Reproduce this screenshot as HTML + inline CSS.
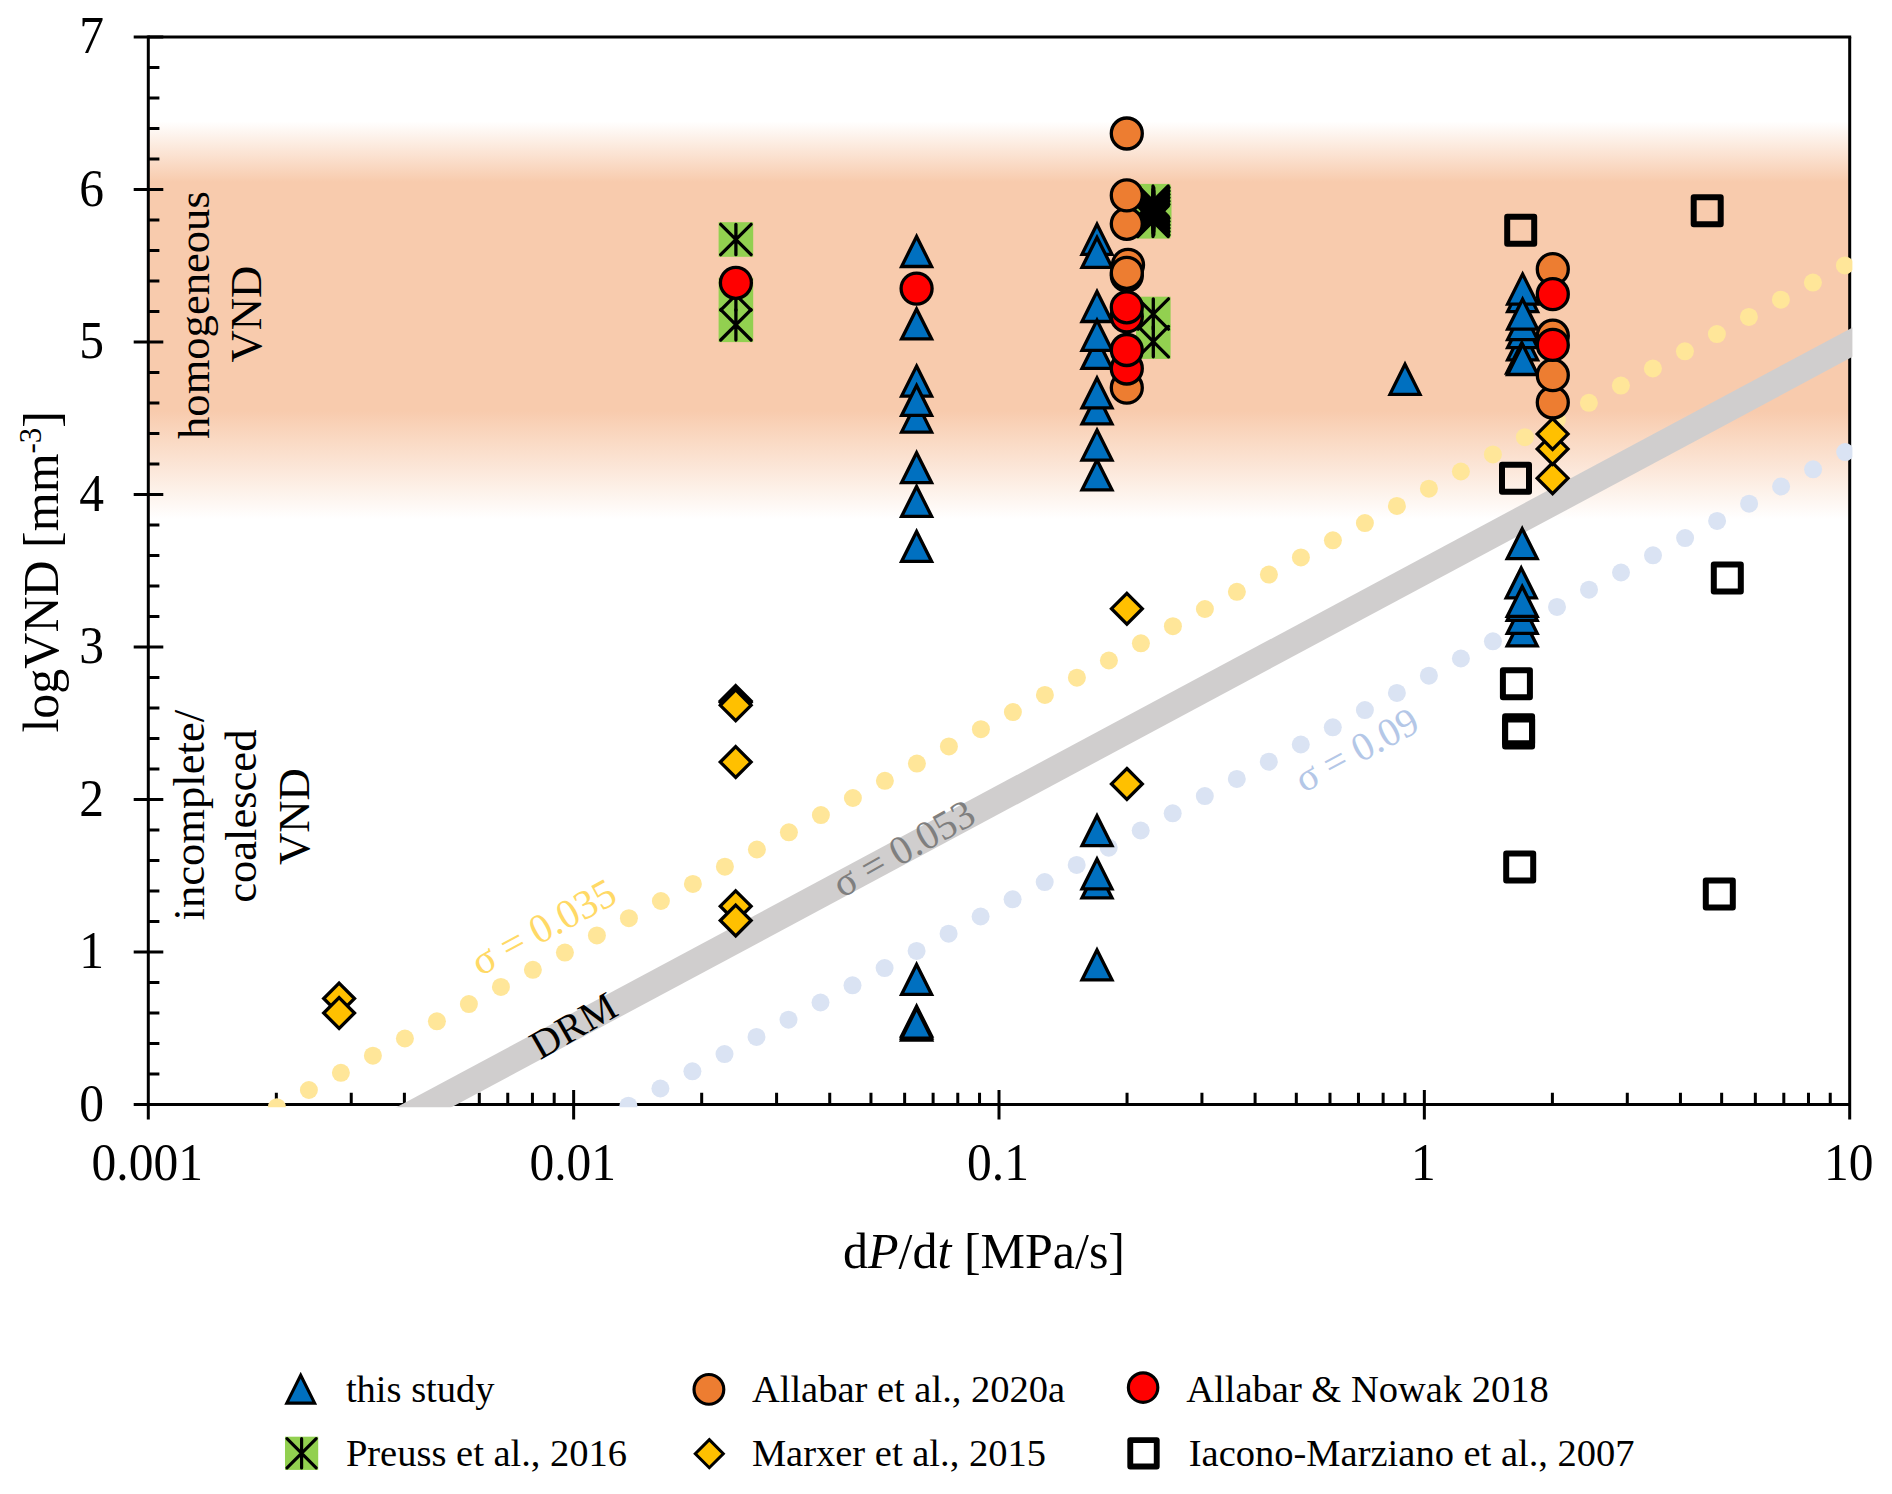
<!DOCTYPE html>
<html lang="en"><head><meta charset="utf-8">
<title>logVND vs dP/dt</title>
<style>
html,body{margin:0;padding:0;background:#fff;}
body{width:1892px;height:1494px;overflow:hidden;}
svg{display:block;}
text{font-family:"Liberation Serif", "Times New Roman", Times, serif;fill:#000;}
.tk{font-size:49.5px;}
.ax{font-size:50px;}
.lb{font-size:44.6px;}
.in{font-size:40px;}
.lg{font-size:38.5px;}
.tri{fill:#0070C0;stroke:#000;stroke-width:3.3;stroke-linejoin:miter;}
.co{fill:#ED7D31;stroke:#000;stroke-width:3.3;}
.cr{fill:#FF0000;stroke:#000;stroke-width:3.3;}
.di{fill:#FFC000;stroke:#000;stroke-width:3.3;stroke-linejoin:miter;}
.sq{fill:none;stroke:#000;stroke-width:6;stroke-linejoin:round;}
.gs{fill:#92D050;}
.st{stroke:#000;stroke-width:3.3;stroke-linecap:round;fill:none;}
.axl{stroke:#000;stroke-width:3;fill:none;stroke-linecap:butt;}
</style></head><body>
<svg width="1892" height="1494" viewBox="0 0 1892 1494">
<defs>
<linearGradient id="band" x1="0" y1="0" x2="0" y2="1">
<stop offset="0" stop-color="#F8CBAD" stop-opacity="0"/>
<stop offset="0.152" stop-color="#F8CBAD" stop-opacity="1"/>
<stop offset="0.728" stop-color="#F8CBAD" stop-opacity="1"/>
<stop offset="1" stop-color="#F8CBAD" stop-opacity="0"/>
</linearGradient>
<clipPath id="plot"><rect x="145.6" y="34.3" width="1706.8" height="1073.0"/></clipPath>
<path id="T" class="tri" d="M0,-15.00 L15.00,15.00 L-15.00,15.00 Z"/>
<circle id="O" class="co" r="15.5"/>
<circle id="R" class="cr" r="15.5"/>
<path id="D" class="di" d="M0,-15.4 L15.4,0 L0,15.4 L-15.4,0 Z"/>
<rect id="S" class="sq" x="-13.5" y="-13.5" width="27" height="27"/>
<rect id="GF" class="gs" x="-17.3" y="-17.3" width="34.6" height="34.6"/>
<path id="GS" class="st" d="M0,-15.2 V15.2 M-15.2,-15.2 L15.2,15.2 M15.2,-15.2 L-15.2,15.2"/>
<g id="G"><use href="#GF"/><use href="#GS"/></g>
</defs>
<rect x="0" y="0" width="1892" height="1494" fill="#fff"/>
<rect x="148.3" y="121.5" width="1701.4" height="397.5" fill="url(#band)"/>
<text class="lb" text-anchor="middle" transform="translate(209.2,315.1) rotate(-90)">homogeneous</text>
<text class="lb" text-anchor="middle" transform="translate(261.4,314.1) rotate(-90)">VND</text>
<text class="lb" text-anchor="middle" transform="translate(204.2,815.2) rotate(-90)">incomplete/</text>
<text class="lb" text-anchor="middle" transform="translate(256.4,816.2) rotate(-90)">coalesced</text>
<text class="lb" text-anchor="middle" transform="translate(308.6,816.7) rotate(-90)">VND</text>
<g class="axl">
<path d="M148.3,35.5 V1119.6"/>
<path d="M148.3,37.0 H1851.2"/>
<path d="M1849.7,37.0 V1119.6"/>
<path d="M133.7,1104.5 H1849.7"/>
<path d="M148.3,1074.00 H159.4 M148.3,1043.50 H159.4 M148.3,1013.00 H159.4 M148.3,982.50 H159.4 M133.7,952.00 H163.3 M148.3,921.50 H159.4 M148.3,891.00 H159.4 M148.3,860.50 H159.4 M148.3,830.00 H159.4 M133.7,799.50 H163.3 M148.3,769.00 H159.4 M148.3,738.50 H159.4 M148.3,708.00 H159.4 M148.3,677.50 H159.4 M133.7,647.00 H163.3 M148.3,616.50 H159.4 M148.3,586.00 H159.4 M148.3,555.50 H159.4 M148.3,525.00 H159.4 M133.7,494.50 H163.3 M148.3,464.00 H159.4 M148.3,433.50 H159.4 M148.3,403.00 H159.4 M148.3,372.50 H159.4 M133.7,342.00 H163.3 M148.3,311.50 H159.4 M148.3,281.00 H159.4 M148.3,250.50 H159.4 M148.3,220.00 H159.4 M133.7,189.50 H163.3 M148.3,159.00 H159.4 M148.3,128.50 H159.4 M148.3,98.00 H159.4 M148.3,67.50 H159.4 M133.7,37.00 H163.3"/>
<path d="M276.34,1092.8 V1104.5 M351.24,1092.8 V1104.5 M404.39,1092.8 V1104.5 M445.61,1092.8 V1104.5 M479.29,1092.8 V1104.5 M507.76,1092.8 V1104.5 M532.43,1092.8 V1104.5 M554.19,1092.8 V1104.5 M573.65,1090.0 V1119.6 M701.69,1092.8 V1104.5 M776.59,1092.8 V1104.5 M829.74,1092.8 V1104.5 M870.96,1092.8 V1104.5 M904.64,1092.8 V1104.5 M933.11,1092.8 V1104.5 M957.78,1092.8 V1104.5 M979.54,1092.8 V1104.5 M999.00,1090.0 V1119.6 M1127.04,1092.8 V1104.5 M1201.94,1092.8 V1104.5 M1255.09,1092.8 V1104.5 M1296.31,1092.8 V1104.5 M1329.99,1092.8 V1104.5 M1358.46,1092.8 V1104.5 M1383.13,1092.8 V1104.5 M1404.89,1092.8 V1104.5 M1424.35,1090.0 V1119.6 M1552.39,1092.8 V1104.5 M1627.29,1092.8 V1104.5 M1680.44,1092.8 V1104.5 M1721.66,1092.8 V1104.5 M1755.34,1092.8 V1104.5 M1783.81,1092.8 V1104.5 M1808.48,1092.8 V1104.5 M1830.24,1092.8 V1104.5"/>
</g>
<g clip-path="url(#plot)">
<line x1="380.0" y1="1130.8" x2="1900.0" y2="316.7" stroke="#D0CECE" stroke-width="26"/>
<circle cx="276.9" cy="1107.2" r="9" fill="#FFE699"/>
<circle cx="308.9" cy="1090.0" r="9" fill="#FFE699"/>
<circle cx="340.9" cy="1072.8" r="9" fill="#FFE699"/>
<circle cx="372.9" cy="1055.7" r="9" fill="#FFE699"/>
<circle cx="404.9" cy="1038.5" r="9" fill="#FFE699"/>
<circle cx="436.9" cy="1021.3" r="9" fill="#FFE699"/>
<circle cx="468.9" cy="1004.1" r="9" fill="#FFE699"/>
<circle cx="500.9" cy="986.9" r="9" fill="#FFE699"/>
<circle cx="532.9" cy="969.8" r="9" fill="#FFE699"/>
<circle cx="564.9" cy="952.6" r="9" fill="#FFE699"/>
<circle cx="596.9" cy="935.4" r="9" fill="#FFE699"/>
<circle cx="628.9" cy="918.2" r="9" fill="#FFE699"/>
<circle cx="660.9" cy="901.0" r="9" fill="#FFE699"/>
<circle cx="692.9" cy="883.9" r="9" fill="#FFE699"/>
<circle cx="724.9" cy="866.7" r="9" fill="#FFE699"/>
<circle cx="756.9" cy="849.5" r="9" fill="#FFE699"/>
<circle cx="788.9" cy="832.3" r="9" fill="#FFE699"/>
<circle cx="820.9" cy="815.1" r="9" fill="#FFE699"/>
<circle cx="852.9" cy="798.0" r="9" fill="#FFE699"/>
<circle cx="884.9" cy="780.8" r="9" fill="#FFE699"/>
<circle cx="916.9" cy="763.6" r="9" fill="#FFE699"/>
<circle cx="948.9" cy="746.4" r="9" fill="#FFE699"/>
<circle cx="980.9" cy="729.2" r="9" fill="#FFE699"/>
<circle cx="1012.9" cy="712.1" r="9" fill="#FFE699"/>
<circle cx="1044.9" cy="694.9" r="9" fill="#FFE699"/>
<circle cx="1076.9" cy="677.7" r="9" fill="#FFE699"/>
<circle cx="1108.9" cy="660.5" r="9" fill="#FFE699"/>
<circle cx="1140.9" cy="643.3" r="9" fill="#FFE699"/>
<circle cx="1172.9" cy="626.2" r="9" fill="#FFE699"/>
<circle cx="1204.9" cy="609.0" r="9" fill="#FFE699"/>
<circle cx="1236.9" cy="591.8" r="9" fill="#FFE699"/>
<circle cx="1268.9" cy="574.6" r="9" fill="#FFE699"/>
<circle cx="1300.9" cy="557.4" r="9" fill="#FFE699"/>
<circle cx="1332.9" cy="540.3" r="9" fill="#FFE699"/>
<circle cx="1364.9" cy="523.1" r="9" fill="#FFE699"/>
<circle cx="1396.9" cy="505.9" r="9" fill="#FFE699"/>
<circle cx="1428.9" cy="488.7" r="9" fill="#FFE699"/>
<circle cx="1460.9" cy="471.5" r="9" fill="#FFE699"/>
<circle cx="1492.9" cy="454.4" r="9" fill="#FFE699"/>
<circle cx="1524.9" cy="437.2" r="9" fill="#FFE699"/>
<circle cx="1556.9" cy="420.0" r="9" fill="#FFE699"/>
<circle cx="1588.9" cy="402.8" r="9" fill="#FFE699"/>
<circle cx="1620.9" cy="385.6" r="9" fill="#FFE699"/>
<circle cx="1652.9" cy="368.5" r="9" fill="#FFE699"/>
<circle cx="1684.9" cy="351.3" r="9" fill="#FFE699"/>
<circle cx="1716.9" cy="334.1" r="9" fill="#FFE699"/>
<circle cx="1748.9" cy="316.9" r="9" fill="#FFE699"/>
<circle cx="1780.9" cy="299.7" r="9" fill="#FFE699"/>
<circle cx="1812.9" cy="282.6" r="9" fill="#FFE699"/>
<circle cx="1844.9" cy="265.4" r="9" fill="#FFE699"/>
<circle cx="628.4" cy="1105.7" r="9" fill="#DAE3F3"/>
<circle cx="660.4" cy="1088.5" r="9" fill="#DAE3F3"/>
<circle cx="692.4" cy="1071.3" r="9" fill="#DAE3F3"/>
<circle cx="724.5" cy="1054.1" r="9" fill="#DAE3F3"/>
<circle cx="756.5" cy="1036.9" r="9" fill="#DAE3F3"/>
<circle cx="788.5" cy="1019.7" r="9" fill="#DAE3F3"/>
<circle cx="820.5" cy="1002.5" r="9" fill="#DAE3F3"/>
<circle cx="852.5" cy="985.3" r="9" fill="#DAE3F3"/>
<circle cx="884.6" cy="968.1" r="9" fill="#DAE3F3"/>
<circle cx="916.6" cy="950.9" r="9" fill="#DAE3F3"/>
<circle cx="948.6" cy="933.7" r="9" fill="#DAE3F3"/>
<circle cx="980.6" cy="916.5" r="9" fill="#DAE3F3"/>
<circle cx="1012.6" cy="899.3" r="9" fill="#DAE3F3"/>
<circle cx="1044.7" cy="882.1" r="9" fill="#DAE3F3"/>
<circle cx="1076.7" cy="864.9" r="9" fill="#DAE3F3"/>
<circle cx="1108.7" cy="847.7" r="9" fill="#DAE3F3"/>
<circle cx="1140.7" cy="830.5" r="9" fill="#DAE3F3"/>
<circle cx="1172.7" cy="813.3" r="9" fill="#DAE3F3"/>
<circle cx="1204.8" cy="796.1" r="9" fill="#DAE3F3"/>
<circle cx="1236.8" cy="778.9" r="9" fill="#DAE3F3"/>
<circle cx="1268.8" cy="761.7" r="9" fill="#DAE3F3"/>
<circle cx="1300.8" cy="744.5" r="9" fill="#DAE3F3"/>
<circle cx="1332.8" cy="727.3" r="9" fill="#DAE3F3"/>
<circle cx="1364.9" cy="710.1" r="9" fill="#DAE3F3"/>
<circle cx="1396.9" cy="692.9" r="9" fill="#DAE3F3"/>
<circle cx="1428.9" cy="675.7" r="9" fill="#DAE3F3"/>
<circle cx="1460.9" cy="658.5" r="9" fill="#DAE3F3"/>
<circle cx="1492.9" cy="641.3" r="9" fill="#DAE3F3"/>
<circle cx="1525.0" cy="624.1" r="9" fill="#DAE3F3"/>
<circle cx="1557.0" cy="606.9" r="9" fill="#DAE3F3"/>
<circle cx="1589.0" cy="589.7" r="9" fill="#DAE3F3"/>
<circle cx="1621.0" cy="572.5" r="9" fill="#DAE3F3"/>
<circle cx="1653.0" cy="555.3" r="9" fill="#DAE3F3"/>
<circle cx="1685.1" cy="538.1" r="9" fill="#DAE3F3"/>
<circle cx="1717.1" cy="520.9" r="9" fill="#DAE3F3"/>
<circle cx="1749.1" cy="503.7" r="9" fill="#DAE3F3"/>
<circle cx="1781.1" cy="486.5" r="9" fill="#DAE3F3"/>
<circle cx="1813.1" cy="469.3" r="9" fill="#DAE3F3"/>
<circle cx="1845.2" cy="452.1" r="9" fill="#DAE3F3"/>
</g>
<text text-anchor="middle" style="fill:#FFD966;font-size:41.0px" transform="translate(543.7,927.5) rotate(-28.3)" dy="13.0">σ = 0.035</text>
<text text-anchor="middle" style="fill:#000;font-size:40.5px" transform="translate(580.1,1037.3) rotate(-29.8)" dy="0.0">DRM</text>
<text text-anchor="middle" style="fill:#7F7F7F;font-size:40.5px" transform="translate(903.7,848.9) rotate(-29.4)" dy="13.0">σ = 0.053</text>
<text text-anchor="middle" style="fill:#B4C7E7;font-size:40.0px" transform="translate(1356.6,750.1) rotate(-28.3)" dy="13.0">σ = 0.09</text>
<use href="#GF" x="735.9" y="239.5"/>
<use href="#GF" x="735.9" y="324.8"/>
<use href="#GF" x="735.9" y="295.0"/>
<use href="#GF" x="1153.0" y="201.2"/>
<use href="#GF" x="1153.8" y="202.9"/>
<use href="#GF" x="1153.0" y="204.5"/>
<use href="#GF" x="1153.8" y="206.2"/>
<use href="#GF" x="1153.0" y="207.9"/>
<use href="#GF" x="1153.8" y="209.6"/>
<use href="#GF" x="1153.0" y="211.2"/>
<use href="#GF" x="1153.8" y="212.9"/>
<use href="#GF" x="1153.0" y="214.6"/>
<use href="#GF" x="1153.8" y="216.3"/>
<use href="#GF" x="1153.0" y="218.0"/>
<use href="#GF" x="1153.8" y="219.6"/>
<use href="#GF" x="1153.0" y="221.3"/>
<use href="#GF" x="1153.3" y="341.6"/>
<use href="#GF" x="1153.3" y="314.0"/>
<use href="#GS" x="735.9" y="239.5"/>
<use href="#GS" x="735.9" y="324.8"/>
<use href="#GS" x="735.9" y="295.0"/>
<use href="#GS" x="1153.0" y="201.2"/>
<use href="#GS" x="1153.8" y="202.9"/>
<use href="#GS" x="1153.0" y="204.5"/>
<use href="#GS" x="1153.8" y="206.2"/>
<use href="#GS" x="1153.0" y="207.9"/>
<use href="#GS" x="1153.8" y="209.6"/>
<use href="#GS" x="1153.0" y="211.2"/>
<use href="#GS" x="1153.8" y="212.9"/>
<use href="#GS" x="1153.0" y="214.6"/>
<use href="#GS" x="1153.8" y="216.3"/>
<use href="#GS" x="1153.0" y="218.0"/>
<use href="#GS" x="1153.8" y="219.6"/>
<use href="#GS" x="1153.0" y="221.3"/>
<use href="#GS" x="1153.3" y="341.6"/>
<use href="#GS" x="1153.3" y="314.0"/>
<use href="#T" x="916.6" y="251.5"/>
<use href="#T" x="916.6" y="323.9"/>
<use href="#T" x="916.6" y="381.1"/>
<use href="#T" x="916.6" y="417.1"/>
<use href="#T" x="916.6" y="400.4"/>
<use href="#T" x="916.6" y="501.4"/>
<use href="#T" x="916.6" y="467.7"/>
<use href="#T" x="916.6" y="546.4"/>
<use href="#T" x="916.6" y="979.4"/>
<use href="#T" x="916.6" y="1021.2"/>
<use href="#T" x="916.6" y="1025.1"/>
<use href="#T" x="916.6" y="1023.2"/>
<use href="#T" x="1097.0" y="239.3"/>
<use href="#T" x="1097.0" y="252.4"/>
<use href="#T" x="1097.0" y="306.5"/>
<use href="#T" x="1097.0" y="353.4"/>
<use href="#T" x="1097.0" y="335.3"/>
<use href="#T" x="1097.0" y="408.9"/>
<use href="#T" x="1097.0" y="392.9"/>
<use href="#T" x="1097.0" y="474.9"/>
<use href="#T" x="1097.0" y="445.1"/>
<use href="#T" x="1097.0" y="830.7"/>
<use href="#T" x="1097.0" y="882.9"/>
<use href="#T" x="1097.0" y="873.9"/>
<use href="#T" x="1097.0" y="964.9"/>
<use href="#T" x="1405.0" y="379.3"/>
<use href="#T" x="1522.6" y="344.8"/>
<use href="#T" x="1522.6" y="332.7"/>
<use href="#T" x="1522.6" y="324.7"/>
<use href="#T" x="1522.6" y="296.6"/>
<use href="#T" x="1522.6" y="289.1"/>
<use href="#T" x="1522.6" y="314.2"/>
<use href="#T" x="1521.6" y="358.1"/>
<use href="#T" x="1522.6" y="359.5"/>
<use href="#T" x="1522.2" y="543.7"/>
<use href="#T" x="1521.2" y="582.9"/>
<use href="#T" x="1522.2" y="630.9"/>
<use href="#T" x="1522.2" y="618.4"/>
<use href="#T" x="1522.2" y="605.4"/>
<use href="#T" x="1522.2" y="601.4"/>
<use href="#O" x="1126.8" y="133.5"/>
<use href="#O" x="1126.8" y="223.8"/>
<use href="#O" x="1126.8" y="195.4"/>
<use href="#O" x="1128.0" y="264.9"/>
<use href="#O" x="1126.8" y="275.6"/>
<use href="#O" x="1126.8" y="272.8"/>
<use href="#O" x="1126.8" y="387.7"/>
<use href="#O" x="1552.8" y="402.5"/>
<use href="#O" x="1552.8" y="375.2"/>
<use href="#O" x="1552.8" y="335.7"/>
<use href="#O" x="1552.8" y="269.2"/>
<use href="#R" x="735.9" y="282.8"/>
<use href="#R" x="916.6" y="288.6"/>
<use href="#R" x="1126.8" y="368.5"/>
<use href="#R" x="1126.8" y="316.4"/>
<use href="#R" x="1126.8" y="307.3"/>
<use href="#R" x="1126.8" y="350.0"/>
<use href="#R" x="1552.8" y="294.2"/>
<use href="#R" x="1552.8" y="344.9"/>
<use href="#D" x="339.1" y="998.5"/>
<use href="#D" x="339.1" y="1013.0"/>
<use href="#D" x="735.7" y="701.0"/>
<use href="#D" x="735.7" y="702.2"/>
<use href="#D" x="735.7" y="705.3"/>
<use href="#D" x="735.7" y="762.1"/>
<use href="#D" x="735.7" y="906.2"/>
<use href="#D" x="735.7" y="920.5"/>
<use href="#D" x="1126.9" y="608.7"/>
<use href="#D" x="1126.9" y="783.9"/>
<use href="#D" x="1552.6" y="478.2"/>
<use href="#D" x="1552.6" y="448.9"/>
<use href="#D" x="1552.6" y="433.9"/>
<use href="#S" x="1520.7" y="230.2"/>
<use href="#S" x="1707.2" y="210.7"/>
<use href="#S" x="1515.5" y="478.2"/>
<use href="#S" x="1727.3" y="578.0"/>
<use href="#S" x="1516.4" y="683.8"/>
<use href="#S" x="1518.6" y="729.7"/>
<use href="#S" x="1518.6" y="733.1"/>
<use href="#S" x="1519.7" y="867.0"/>
<use href="#S" x="1719.3" y="894.0"/>
<text class="tk" text-anchor="end" transform="translate(104,1120.5) scale(1,1.05)">0</text>
<text class="tk" text-anchor="end" transform="translate(104,968.0) scale(1,1.05)">1</text>
<text class="tk" text-anchor="end" transform="translate(104,815.5) scale(1,1.05)">2</text>
<text class="tk" text-anchor="end" transform="translate(104,663.0) scale(1,1.05)">3</text>
<text class="tk" text-anchor="end" transform="translate(104,510.5) scale(1,1.05)">4</text>
<text class="tk" text-anchor="end" transform="translate(104,358.0) scale(1,1.05)">5</text>
<text class="tk" text-anchor="end" transform="translate(104,205.5) scale(1,1.05)">6</text>
<text class="tk" text-anchor="end" transform="translate(104,53.0) scale(1,1.05)">7</text>
<text class="tk" text-anchor="middle" transform="translate(147.3,1179.6) scale(1,1.05)">0.001</text>
<text class="tk" text-anchor="middle" transform="translate(572.7,1179.6) scale(1,1.05)">0.01</text>
<text class="tk" text-anchor="middle" transform="translate(998.0,1179.6) scale(1,1.05)">0.1</text>
<text class="tk" text-anchor="middle" transform="translate(1423.4,1179.6) scale(1,1.05)">1</text>
<text class="tk" text-anchor="middle" transform="translate(1848.7,1179.6) scale(1,1.05)">10</text>
<text class="ax" text-anchor="middle" x="984" y="1267.6">d<tspan font-style="italic">P</tspan>/d<tspan font-style="italic">t</tspan> [MPa/s]</text>
<text class="ax" text-anchor="middle" transform="translate(57.5,571.8) rotate(-90)">logVND [mm<tspan font-size="31" dy="-17">-3</tspan><tspan dy="17">]</tspan></text>
<use href="#T" transform="translate(300.7,1389.2) scale(0.930)"/>
<use href="#G" transform="translate(301.6,1453.3) scale(0.960)"/>
<use href="#O" transform="translate(708.9,1389.4) scale(0.960)"/>
<use href="#D" transform="translate(709.3,1453.7) scale(0.910)"/>
<use href="#R" transform="translate(1143.1,1387.6) scale(0.950)"/>
<use href="#S" transform="translate(1143.5,1453.3) scale(0.980)"/>
<text class="lg" x="345.9" y="1401.5">this study</text>
<text class="lg" x="345.9" y="1466.3">Preuss et al., 2016</text>
<text class="lg" x="751.9" y="1401.5">Allabar et al., 2020a</text>
<text class="lg" x="751.9" y="1466.3">Marxer et al., 2015</text>
<text class="lg" x="1186.3" y="1401.5">Allabar &amp; Nowak 2018</text>
<text class="lg" x="1188.8" y="1466.3">Iacono-Marziano et al., 2007</text>
</svg>
</body></html>
